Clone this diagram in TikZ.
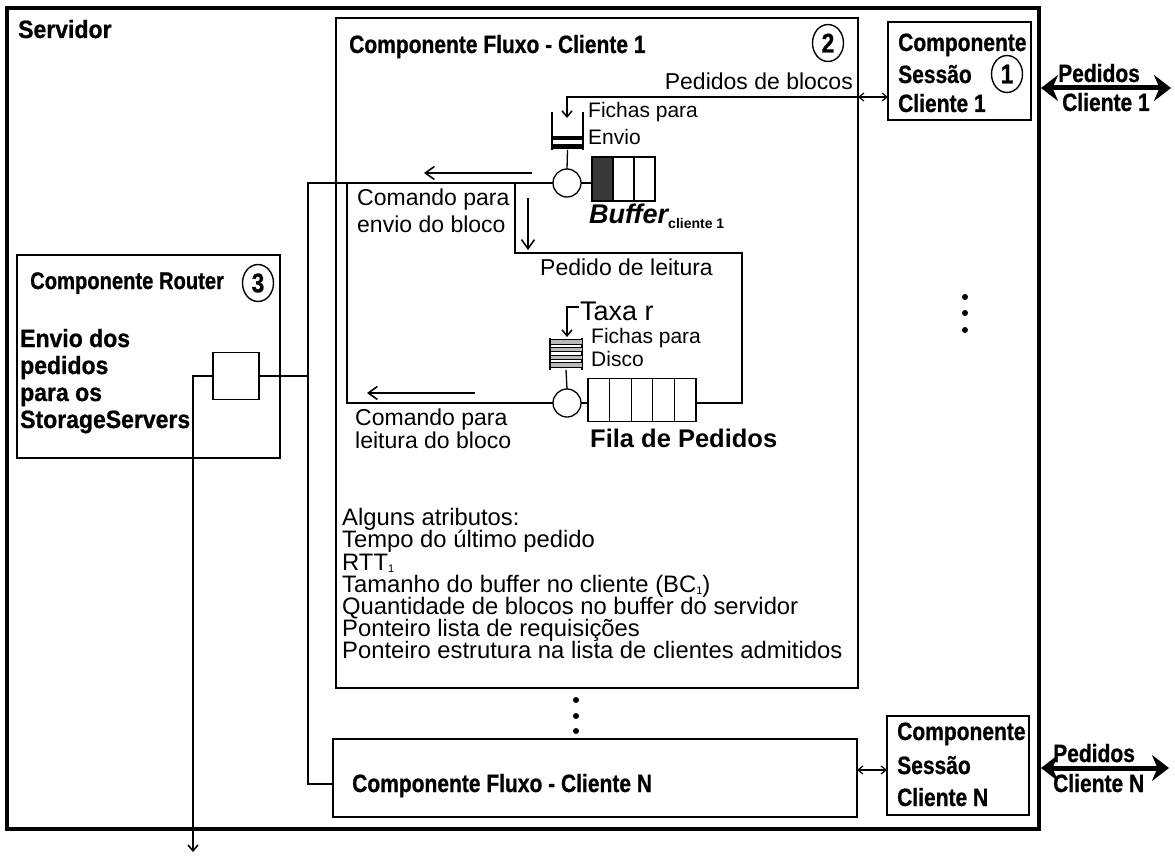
\documentclass[tikz,border=0pt]{standalone}
\usepackage{fontspec}
\setmainfont{Liberation Sans}
\newfontfamily\cnd{Liberation Sans}[FakeStretch=0.84,FakeBold=0.8]
\newfontfamily\cndw{Liberation Sans}[FakeStretch=0.92,FakeBold=0.8]
\usetikzlibrary{arrows.meta,shapes.geometric,calc}
\tikzset{
 ln/.style={line width=1.3pt},
 bx/.style={draw, line width=1.3pt, inner sep=0, outer sep=0, anchor=north west},
 ttl/.style={font=\cnd\bfseries\fontsize{25}{28}\selectfont, inner sep=0, anchor=base west},
 ttw/.style={font=\cndw\bfseries\fontsize{25}{28}\selectfont, inner sep=0, anchor=base west},
 txt/.style={font=\fontsize{23}{26}\selectfont, inner sep=0, anchor=base west},
 atx/.style={font=\fontsize{23.8}{26}\selectfont, inner sep=0, anchor=base west},
 sml/.style={font=\fontsize{21}{24}\selectfont, inner sep=0, anchor=base west},
 numc/.style={ellipse, draw, line width=1.4pt, minimum width=31pt, minimum height=37pt, inner sep=0, font=\cnd\bfseries\fontsize{27}{28}\selectfont},
 arr/.style={line width=1.5pt, -{Straight Barb[length=9pt,width=13pt,line width=1.6pt]}},
 tarr/.style={line width=1.3pt, -{Straight Barb[length=6pt,width=10pt,line width=1.5pt]}},
 sarr/.style={line width=1.2pt, {Straight Barb[length=5pt,width=8pt]}-{Straight Barb[length=5pt,width=8pt]}},
 big/.style={line width=5pt, {Stealth[length=17pt,width=26pt]}-{Stealth[length=17pt,width=26pt]}},
 cell/.style={draw, line width=1.3pt, minimum width=21pt, minimum height=44pt, inner sep=0, outer sep=0},
 qcell/.style={draw, line width=1.3pt, minimum width=21.6pt, minimum height=43pt, inner sep=0, outer sep=0},
 dot/.style={circle, fill, inner sep=0, minimum size=6pt},
 bar/.style={fill=gray!55, draw, line width=0.8pt},
}
\newcommand{\sbs}[1]{\raisebox{-2pt}{\fontsize{11}{11}\selectfont #1}}
\begin{document}
\begin{tikzpicture}[x=1pt,y=-1pt]
\fill[white] (0,0) rectangle (1175,856);
\useasboundingbox (0,0) rectangle (1175,856);

% main boxes
\node[bx, line width=3.5pt, minimum width=1032pt, minimum height=821pt] (srv) at (7,8) {};
\node[bx, minimum width=522pt, minimum height=670pt] (fl1) at (336,18) {};
\node[bx, minimum width=143pt, minimum height=98pt] (s1) at (888,22) {};
\node[bx, minimum width=524pt, minimum height=78pt] (fln) at (333,739) {};
\node[bx, minimum width=142pt, minimum height=99pt] (sn) at (887,716) {};
\node[bx, minimum width=263pt, minimum height=203pt] (rtr) at (17,255) {};
\node[draw, ln, minimum width=46pt, minimum height=47pt, inner sep=0, outer sep=0] (rt) at (236,376) {};

% titles
\node[ttw] (tsrv) at (18,38) {Servidor};
\node[ttl] (tfl1) at (349,53) {Componente Fluxo - Cliente 1};
\node[numc] (n2) at (828,43) {2};
\node[ttl] (ts1a) at (898,51) {Componente};
\node[ttl] (ts1b) at (898,83) {Sessão};
\node[ttl] (ts1c) at (898,112) {Cliente 1};
\node[numc] (n1) at (1007,74) {1};
\node[ttl] (tsna) at (897,740) {Componente};
\node[ttl] (tsnb) at (897,774) {Sessão};
\node[ttl] (tsnc) at (897,806) {Cliente N};
\node[ttl] (tfln) at (352,792) {Componente Fluxo - Cliente N};
\node[ttl, font=\cnd\bfseries\fontsize{24}{28}\selectfont] (trt) at (30,289) {Componente Router};
\node[numc] (n3) at (258,283) {3};
\node[ttw] (tr1) at (20,347) {Envio dos};
\node[ttw] (tr2) at (20,374) {pedidos};
\node[ttw] (tr3) at (20,401) {para os};
\node[ttw] (tr4) at (20,428) {StorageServers};

% big arrows
\coordinate (g1) at (1171,88);
\draw[big, shorten <=2pt] (srv.east |- g1) -- (g1);
\node[ttl] (p1a) at (1058,82) {Pedidos};
\node[ttl] (p1b) at (1062,111) {Cliente 1};
\coordinate (gn) at (1169,768);
\draw[big, shorten <=2pt] (srv.east |- gn) -- (gn);
\node[ttl] (pna) at (1053,762) {Pedidos};
\node[ttl] (pnb) at (1053,792) {Cliente N};

% small double arrows
\coordinate (pb) at (567,97);
\coordinate (pbt) at (567,118);
\coordinate (pn) at (0,770);
\draw[sarr] (fl1.east |- pb) -- (s1.west |- pb);
\draw[sarr] (fln.east |- pn) -- (sn.west |- pn);
\draw[tarr] (fl1.east |- pb) -- (pb) -- (pbt);
\node[txt, anchor=base east] (tpb) at (853,90) {Pedidos de blocos};

% envio bucket
\node[minimum width=31pt, minimum height=38pt, inner sep=0, outer sep=0] (fe) at (567.5,131) {};
\draw[ln] (fe.north west) -- (fe.south west) (fe.north east) -- (fe.south east);
\fill (552,136) rectangle (583,140.5);
\fill (552,144.5) rectangle (583,149);
\node[sml] (tfe1) at (588,118) {Fichas para};
\node[sml] (tfe2) at (588,144) {Envio};
\node[circle, draw, ln, minimum size=28pt, inner sep=0, outer sep=0] (ce) at (567,183) {};
\draw[ln] (fe.south) -- (ce.north);

% buffer
\node[cell, fill=black!78] (b1) at (602.5,179) {};
\node[cell] (b2) at (623.5,179) {};
\node[cell] (b3) at (644.5,179) {};
\draw[ln] (ce.east) -- (ce.east -| b1.west);
\node[anchor=base west, inner sep=0, font=\bfseries\itshape\fontsize{27}{30}\selectfont] (bl) at (589,223) {Buffer\raisebox{-5pt}{\upshape\fontsize{14}{16}\selectfont cliente 1}};

% disco bucket
\node[minimum width=32pt, minimum height=32pt, inner sep=0, outer sep=0] (fd) at (566,354) {};
\draw[ln] (fd.north west) -- (fd.south west) (fd.north east) -- (fd.south east);
\draw[bar] (550,339.5) rectangle (582,344);
\draw[bar] (550,347) rectangle (582,351.5);
\draw[bar] (550,355) rectangle (582,359.5);
\draw[bar] (550,362.5) rectangle (582,367);
\node[sml] (tfd1) at (591,343) {Fichas para};
\node[sml] (tfd2) at (591,366) {Disco};
\node[circle, draw, ln, minimum size=28pt, inner sep=0, outer sep=0] (cd) at (567,403) {};
\draw[ln] (fd.south) -- (cd.north);
\coordinate (tx) at (579,307);
\coordinate (txc) at (567,307);
\coordinate (txe) at (567,337);
\draw[tarr] (tx) -- (txc) -- (txe);
\node[anchor=base west, inner sep=0, font=\fontsize{27}{30}\selectfont] (ttx) at (580,320) {Taxa r};

% queue
\node[qcell] (q1) at (598.8,400) {};
\node[qcell] (q2) at (620.4,400) {};
\node[qcell] (q3) at (642,400) {};
\node[qcell] (q4) at (663.6,400) {};
\node[qcell] (q5) at (685.2,400) {};
\draw[ln] (cd.east) -- (cd.east -| q1.west);
\node[anchor=base west, inner sep=0, font=\bfseries\fontsize{25.5}{28}\selectfont] (tfila) at (590,447) {Fila de Pedidos};

% connectors
\coordinate (bt) at (308,183);
\coordinate (bb) at (308,784);
\draw[ln] (ce.west) -- (bt) -- (bb) -- (bb -| fln.west);
\coordinate (k1) at (347,183);
\coordinate (k2) at (347,403);
\draw[ln] (k1) -- (k2) -- (cd.west);
\coordinate (j1) at (515,183);
\coordinate (j2) at (515,253);
\coordinate (j3) at (742,253);
\coordinate (j4) at (742,403);
\draw[ln] (j1) -- (j2) -- (j3) -- (j4) -- (j4 -| q5.east);
\draw[ln] (rt.east) -- (rt.east -| bt);
\coordinate (rout) at (193,852);
\draw[tarr] (rt.west) -- (rt.west -| rout) -- (rout);

% arrows
\coordinate (a1s) at (532,173); \coordinate (a1e) at (424,173);
\draw[arr] (a1s) -- (a1e);
\coordinate (a2s) at (475,393); \coordinate (a2e) at (367,393);
\draw[arr] (a2s) -- (a2e);
\coordinate (a3s) at (528,198); \coordinate (a3e) at (528,250);
\draw[arr] (a3s) -- (a3e);

% labels
\node[txt] (tc1a) at (357,205) {Comando para};
\node[txt] (tc1b) at (357,232) {envio do bloco};
\node[txt] (tc2a) at (355,425) {Comando para};
\node[txt] (tc2b) at (355,448) {leitura do bloco};
\node[txt] (tpl) at (540,275) {Pedido de leitura};

% attributes
\node[atx] (at1) at (342,525) {Alguns atributos:};
\node[atx] (at2) at (342,547) {Tempo do último pedido};
\node[atx] (at3) at (342,570) {RTT\sbs{1}};
\node[atx] (at4) at (342,592) {Tamanho do buffer no cliente (BC\sbs{1})};
\node[atx] (at5) at (342,614) {Quantidade de blocos no buffer do servidor};
\node[atx] (at6) at (342,636) {Ponteiro lista de requisições};
\node[atx] (at7) at (342,658) {Ponteiro estrutura na lista de clientes admitidos};

% dots
\node[dot] (d1) at (965,297) {};
\node[dot] (d2) at (965,313) {};
\node[dot] (d3) at (965,330) {};
\node[dot] (d4) at (576,700) {};
\node[dot] (d5) at (576,716) {};
\node[dot] (d6) at (576,731) {};
\end{tikzpicture}
\end{document}
